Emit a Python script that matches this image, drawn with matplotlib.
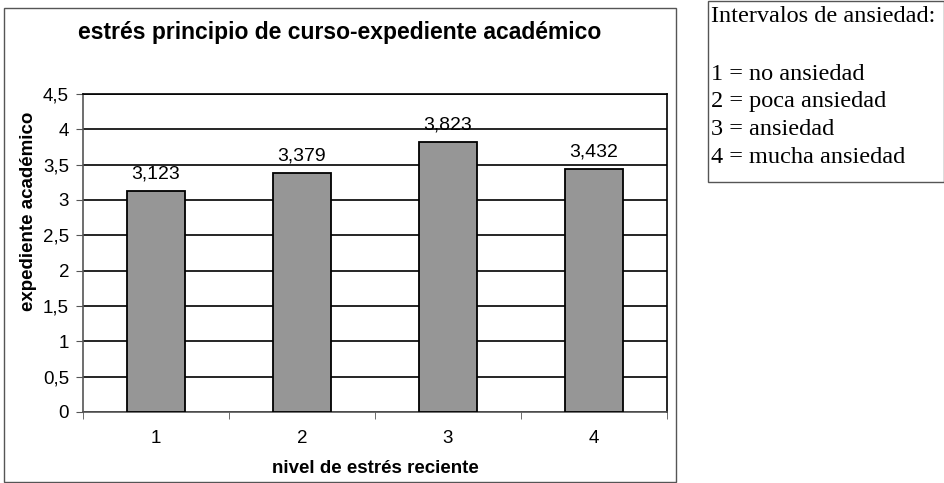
import matplotlib
matplotlib.use("Agg")
import matplotlib.pyplot as plt
from matplotlib.patches import Rectangle
from matplotlib.ticker import FuncFormatter, MultipleLocator

categories = ["1", "2", "3", "4"]
values = [3.123, 3.379, 3.823, 3.432]
value_labels = ["3,123", "3,379", "3,823", "3,432"]
title = "estrés principio de curso-expediente académico"
xlabel = "nivel de estrés reciente"
ylabel = "expediente académico"
box_lines = ["Intervalos de ansiedad:", "1 = no ansiedad", "2 = poca ansiedad",
             "3 = ansiedad", "4 = mucha ansiedad"]

W, H = 945, 483
fig = plt.figure(figsize=(W / 100, H / 100), dpi=100)
plt.rcParams['font.family'] = ['Liberation Sans', 'DejaVu Sans']

def fx(px):
    return px / W

def fy(py):
    return 1 - py / H

# outer chart border
fig.patches.append(Rectangle((fx(4), fy(482)), fx(676) - fx(4), fy(8) - fy(482),
                             transform=fig.transFigure, fill=False, edgecolor="#555555", lw=1))
# text box border
fig.patches.append(Rectangle((fx(708), fy(182)), fx(944) - fx(708), fy(1) - fy(182),
                             transform=fig.transFigure, fill=False, edgecolor="#555555", lw=1))

ax = fig.add_axes([fx(83), fy(412), fx(667) - fx(83), fy(94) - fy(412)])
x = list(range(len(categories)))
ax.bar(x, values, width=0.4, color="#969696", edgecolor="black", linewidth=1.3, zorder=3)
ax.set_xlim(-0.5, len(categories) - 0.5)
ax.set_ylim(0, 4.5)
ax.yaxis.set_major_locator(MultipleLocator(0.5))
ax.yaxis.set_major_formatter(FuncFormatter(lambda v, p: ("%g" % v).replace(".", ",")))
ax.set_xticks(x)
ax.set_xticklabels(categories)
ax.set_xticks([i - 0.5 for i in range(len(categories) + 1)], minor=True)
ax.tick_params(axis="x", which="major", length=0, pad=13, labelsize=13.5)
ax.tick_params(axis="x", which="minor", length=5, direction="out", color="#555555")
ax.tick_params(axis="y", length=5, direction="out", labelsize=13.5, pad=5, color="#555555")
ax.grid(axis="y", color="black", lw=1.2, zorder=1)
for s in ax.spines.values():
    s.set_color("black")
    s.set_linewidth(1.2)
ax.spines["left"].set_color("#555555")
ax.spines["bottom"].set_color("#555555")

for xi, v, lab in zip(x, values, value_labels):
    ax.annotate(lab, (xi, v), xytext=(0, 9), textcoords="offset points",
                ha="center", va="baseline", fontsize=14, zorder=4)

ax.set_xlabel(xlabel, fontsize=13.5, fontweight="bold", labelpad=9)
ax.set_ylabel(ylabel, fontsize=13.5, fontweight="bold")
ax.yaxis.set_label_coords(-0.079, 0.63)

fig.text(fx(340), fy(33), title, ha="center", va="center", fontsize=16.5, fontweight="bold")

ys = [22, 80, 107, 135, 163]
for line, yy in zip(box_lines, ys):
    fig.text(fx(711), fy(yy), line, ha="left", va="baseline", fontsize=17.5,
             family=["Liberation Serif", "DejaVu Serif"])

fig.savefig("out.png", dpi=100)
